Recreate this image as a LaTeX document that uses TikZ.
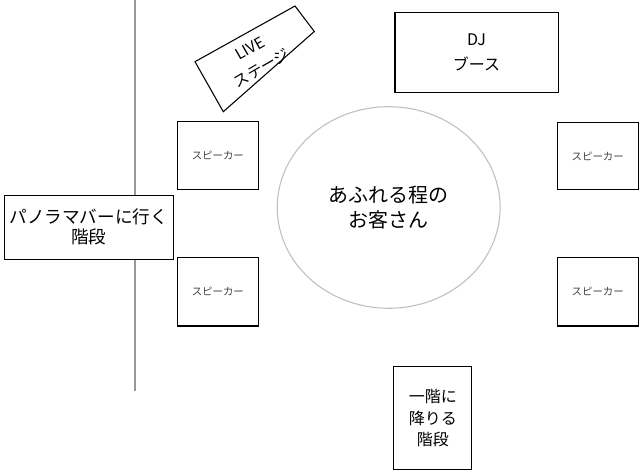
\documentclass[tikz,border=0pt]{standalone}
\usepackage{fontspec}
\setmainfont{Noto Sans CJK JP}
\usetikzlibrary{shapes.geometric}
\begin{document}
\begin{tikzpicture}[x=0.75pt,y=-0.75pt,
  boxed/.style={draw=black,fill=white,line width=0.8pt,rectangle,inner sep=0pt,align=center},
  spk/.style={boxed,minimum width=60.6pt,minimum height=51pt,font=\fontsize{7.8}{9}\selectfont,text=black!75},
  crowdstyle/.style={draw=black!25,fill=white,line width=0.8pt,ellipse,inner sep=0pt,align=center}]
\useasboundingbox (0,0) rectangle (640,473);
\fill[white] (0,0) rectangle (640,473);
% divider
\coordinate (vtop) at (135,0);
\coordinate (vbot) at (135,391);
\draw[black!40,line width=0.8pt] (vtop) -- (vbot);
% speakers
\node[spk] (spk1) at (217.8,155.5) {スピーカー};
\node[spk,minimum width=60.5pt,minimum height=50pt] (spk2) at (597.7,156) {スピーカー};
\node[spk,minimum height=51.5pt] (spk3) at (217.8,291.7) {スピーカー};
\node[spk,minimum width=60.5pt,minimum height=51.5pt] (spk4) at (597.7,291.7) {スピーカー};
% DJ booth
\node[boxed,minimum width=122.3pt,minimum height=60pt,font=\fontsize{12}{18.75}\selectfont] (dj) at (476.5,52.3) {DJ\\ブース};
% panorama stairs
\node[boxed,minimum width=127pt,minimum height=48.2pt,font=\fontsize{13.2}{15}\selectfont] (pano) at (88.7,227.2) {パノラマバーに行く\\階段};
% downstairs
\node[boxed,minimum width=58.3pt,minimum height=77.5pt,font=\fontsize{12}{16.3}\selectfont] (down) at (432.8,418.3) {一階に\\降りる\\階段};
% crowd
\node[crowdstyle,minimum width=167.2pt,minimum height=151.2pt,font=\fontsize{15}{18.75}\selectfont] (crowd) at (388.7,207.5) {あふれる程の\\お客さん};
% LIVE stage
\coordinate (l1) at (195,61.7);
\coordinate (l2) at (295,6);
\coordinate (l3) at (314.3,31.5);
\coordinate (l4) at (223.3,111.7);
\draw[black,fill=white,line width=0.8pt] (l1) -- (l2) -- (l3) -- (l4) -- cycle;
\node[align=center,rotate=30,inner sep=0pt,font=\fontsize{11.5}{17}\selectfont] (live) at (256,58.5) {LIVE\\ステージ};
\end{tikzpicture}
\end{document}
